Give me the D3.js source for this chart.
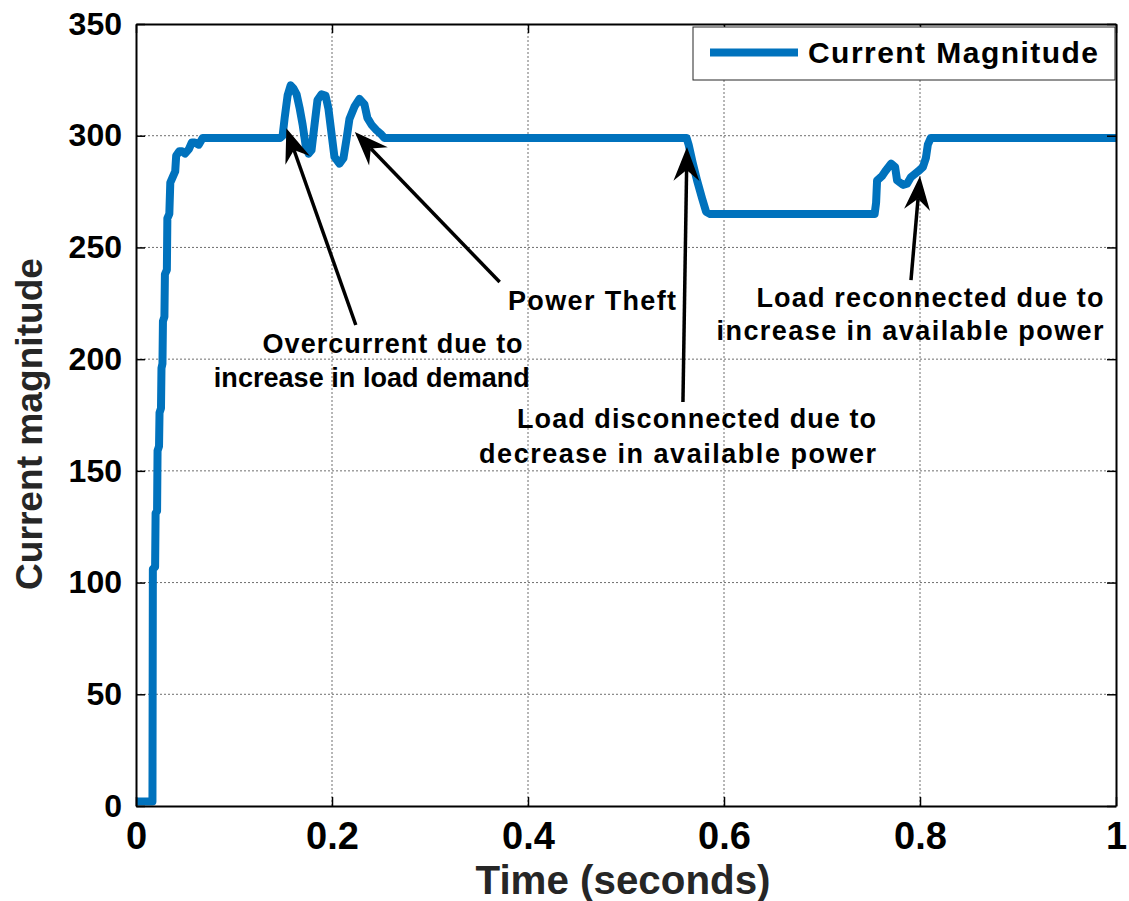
<!DOCTYPE html>
<html>
<head>
<meta charset="utf-8">
<script src="https://cdn.jsdelivr.net/npm/d3@7"></script>
<style>
  html, body { margin: 0; padding: 0; background: #fff; }
  svg { display: block; }
  text { font-family: "Liberation Sans", Arial, Helvetica, sans-serif; font-weight: bold; }
</style>
</head>
<body>
<svg id="chart" width="1129" height="901"></svg>
<script>
// Simulated current magnitude over time (seconds)
const time = [
  0, 0.0168, 0.0172, 0.0195, 0.0200, 0.0215, 0.0220, 0.0235, 0.0240, 0.0255,
  0.0260, 0.0270, 0.0275, 0.0290, 0.0295, 0.0315, 0.0320, 0.0340, 0.0350, 0.0370,
  0.0400, 0.0410, 0.0440, 0.0470, 0.0500, 0.0540, 0.0570, 0.0600, 0.0640, 0.0680,
  0.1470, 0.1496, 0.1517, 0.1547, 0.1578, 0.1609, 0.1639, 0.1669, 0.1700, 0.1730,
  0.1761, 0.1791, 0.1822, 0.1852, 0.1893, 0.1934, 0.1964, 0.1995, 0.2025, 0.2076,
  0.2117, 0.2148, 0.2178, 0.2229, 0.2280, 0.2331, 0.2361, 0.2402, 0.2453, 0.2504,
  0.2534,
  0.5618, 0.5639, 0.5680, 0.5725, 0.5776, 0.5817, 0.5858, 0.7537, 0.7552, 0.7562,
  0.7613, 0.7644, 0.7705, 0.7746, 0.7766, 0.7827, 0.7868, 0.7908, 0.7980, 0.8030,
  0.8060, 0.8080, 0.8110, 1.0
];
const current = [
  2, 2, 106, 107, 131, 132, 159, 161, 176, 178,
  196, 198, 217, 219, 238, 240, 263, 265, 279, 281,
  284, 291, 293, 293, 292, 294, 297, 297, 296, 299,
  299, 300, 308, 318, 322.5, 321, 318.5, 312.5, 305, 296,
  292, 293.5, 305, 316, 318.5, 318, 312, 301, 290.5, 287.5,
  290, 298.5, 307.5, 313, 316.5, 314, 308, 305, 302.5, 300.5,
  299,
  299, 296, 288, 280, 272, 266, 265, 265, 270, 280,
  282, 284, 287.5, 286, 280, 278, 278.5, 281.5, 284, 286,
  290, 296, 299, 299
];

const xTicks = [0, 0.2, 0.4, 0.6, 0.8, 1];
const xTickLabels = ["0", "0.2", "0.4", "0.6", "0.8", "1"];
const yTicks = [0, 50, 100, 150, 200, 250, 300, 350];
const yTickLabels = ["0", "50", "100", "150", "200", "250", "300", "350"];

const seriesName = "Current Magnitude";
const xTitle = "Time (seconds)";
const yTitle = "Current magnitude";

// Annotation arrows: tail and head in data units (time, current)
const arrowTailT = [0.2243, 0.3711, 0.5581, 0.7908];
const arrowTailV = [215.3, 234.5, 180.8, 235.4];
const arrowHeadT = [0.1534, 0.2233, 0.5622, 0.8000];
const arrowHeadV = [303.3, 301.7, 295.0, 282.0];

// Annotation text lines, anchored at their left end and baseline (data units)
const noteText = [
  "Overcurrent due to", "increase in load demand", "Power Theft",
  "Load disconnected due to", "decrease in available power",
  "Load reconnected due to", "increase in available power"
];
const noteT = [0.1292, 0.0794, 0.3796, 0.3888, 0.3501, 0.6331, 0.5924];
const noteV = [202.7, 187.5, 222.0, 169.2, 153.5, 223.3, 208.6];
// Rendered widths (px) of each line
const noteWidth = [260, 316, 168, 359, 397, 347, 387];

const svg = d3.select("#chart");
const plotLeft = 136, plotRight = 1116, plotTop = 24, plotBottom = 806;

const x = d3.scaleLinear().domain([0, 1]).range([plotLeft, plotRight]);
const y = d3.scaleLinear().domain([0, 350]).range([plotBottom, plotTop]);

// Grid lines
const grid = svg.append("g").attr("class", "grid");
grid.selectAll("line.gx").data(xTicks.slice(1, -1)).join("line")
  .attr("x1", d => x(d)).attr("x2", d => x(d))
  .attr("y1", plotTop).attr("y2", plotBottom)
  .attr("stroke", "#6e6e6e").attr("stroke-width", 1).attr("stroke-dasharray", "2,2");
grid.selectAll("line.gy").data(yTicks.slice(1, -1)).join("line")
  .attr("y1", d => y(d)).attr("y2", d => y(d))
  .attr("x1", plotLeft).attr("x2", plotRight)
  .attr("stroke", "#6e6e6e").attr("stroke-width", 1).attr("stroke-dasharray", "2,2");

// Data line, clipped to the axes box
svg.append("clipPath").attr("id", "plotClip").append("rect")
  .attr("x", plotLeft).attr("y", plotTop)
  .attr("width", plotRight - plotLeft).attr("height", plotBottom - plotTop);

const pts = time.map((t, i) => [t, current[i]]);
svg.append("path")
  .datum(pts)
  .attr("clip-path", "url(#plotClip)")
  .attr("fill", "none")
  .attr("stroke", "#0072BD")
  .attr("stroke-width", 8)
  .attr("stroke-linejoin", "round")
  .attr("stroke-linecap", "round")
  .attr("d", d3.line().x(d => x(d[0])).y(d => y(d[1])));

// Axes with inward ticks on all four sides
const tickLen = 9;
const axB = svg.append("g").attr("transform", `translate(0,${plotBottom})`)
  .call(d3.axisBottom(x).tickValues(xTicks).tickSize(-tickLen).tickSizeOuter(0)
    .tickFormat((d, i) => xTickLabels[i]).tickPadding(16));
const axT = svg.append("g").attr("transform", `translate(0,${plotTop})`)
  .call(d3.axisTop(x).tickValues(xTicks).tickSize(-tickLen).tickSizeOuter(0).tickFormat(""));
const axL = svg.append("g").attr("transform", `translate(${plotLeft},0)`)
  .call(d3.axisLeft(y).tickValues(yTicks).tickSize(-tickLen).tickSizeOuter(0)
    .tickFormat((d, i) => yTickLabels[i]).tickPadding(14));
const axR = svg.append("g").attr("transform", `translate(${plotRight},0)`)
  .call(d3.axisRight(y).tickValues(yTicks).tickSize(-tickLen).tickSizeOuter(0).tickFormat(""));

[axB, axT, axL, axR].forEach(a => {
  a.select(".domain").attr("stroke", "#000").attr("stroke-width", 2);
  a.selectAll(".tick line").attr("stroke", "#000").attr("stroke-width", 1.5);
});
axB.selectAll(".tick text")
  .attr("font-size", 38).attr("fill", "#000")
  .attr("font-family", "'Liberation Sans', Arial, sans-serif").attr("font-weight", "bold");
axL.selectAll(".tick text")
  .attr("font-size", 32).attr("fill", "#000")
  .attr("font-family", "'Liberation Sans', Arial, sans-serif").attr("font-weight", "bold");

// Axis titles
svg.append("text")
  .attr("x", (plotLeft + plotRight) / 2 - 3).attr("y", 894)
  .attr("text-anchor", "middle").attr("font-size", 40).attr("fill", "#262626")
  .attr("textLength", 295).attr("lengthAdjust", "spacingAndGlyphs")
  .text(xTitle);
svg.append("text")
  .attr("transform", `translate(42,424) rotate(-90)`)
  .attr("text-anchor", "middle").attr("font-size", 37).attr("fill", "#262626")
  .attr("textLength", 332).attr("lengthAdjust", "spacingAndGlyphs")
  .text(yTitle);

// Arrow annotations
const arrows = svg.append("g").attr("class", "arrows");
arrowTailT.forEach((_, i) => {
  const x0 = x(arrowTailT[i]), y0 = y(arrowTailV[i]);
  const x1 = x(arrowHeadT[i]), y1 = y(arrowHeadV[i]);
  const ang = Math.atan2(y1 - y0, x1 - x0);
  const len = 34, half = 13, notch = 23;
  const ux = Math.cos(ang), uy = Math.sin(ang);
  const px = -uy, py = ux;
  arrows.append("line")
    .attr("x1", x0).attr("y1", y0)
    .attr("x2", x1 - ux * notch).attr("y2", y1 - uy * notch)
    .attr("stroke", "#000").attr("stroke-width", 3.5);
  const bx = x1 - ux * len, by = y1 - uy * len;
  const nx = x1 - ux * notch, ny = y1 - uy * notch;
  arrows.append("path")
    .attr("d", `M${x1},${y1} L${bx + px * half},${by + py * half} L${nx},${ny} L${bx - px * half},${by - py * half} Z`)
    .attr("fill", "#000");
});

// Annotation text
svg.append("g").selectAll("text").data(noteText).join("text")
  .attr("x", (d, i) => x(noteT[i]))
  .attr("y", (d, i) => y(noteV[i]))
  .attr("font-size", 27).attr("fill", "#000")
  .attr("textLength", (d, i) => noteWidth[i]).attr("lengthAdjust", "spacing")
  .text(d => d);

// Legend
const lg = svg.append("g");
lg.append("rect").attr("x", 693).attr("y", 27).attr("width", 422).attr("height", 53)
  .attr("fill", "#fff").attr("stroke", "#262626").attr("stroke-width", 1);
lg.append("line").attr("x1", 710).attr("x2", 798).attr("y1", 52.5).attr("y2", 52.5)
  .attr("stroke", "#0072BD").attr("stroke-width", 8);
lg.append("text").attr("x", 808).attr("y", 63).attr("font-size", 30).attr("fill", "#000")
  .attr("textLength", 290).attr("lengthAdjust", "spacing")
  .text(seriesName);
</script>
</body>
</html>
